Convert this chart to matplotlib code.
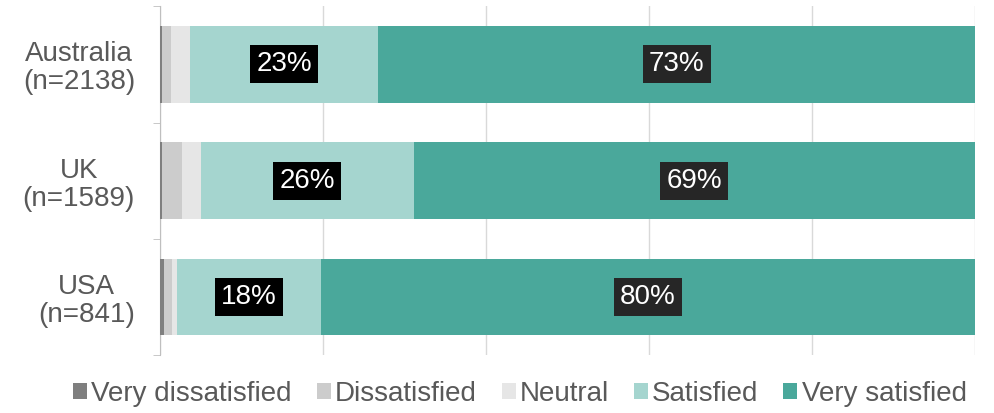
import matplotlib
matplotlib.use("Agg")
import matplotlib.pyplot as plt
import numpy as np

plt.rcParams['font.family'] = ['Liberation Sans', 'DejaVu Sans']

categories = ["Australia\n(n=2138)", "UK\n(n=1589)", "USA\n(n=841)"]
series_names = ["Very dissatisfied", "Dissatisfied", "Neutral", "Satisfied", "Very satisfied"]
very_dissatisfied = [0.3, 0.2, 0.5]
dissatisfied = [1.0, 2.5, 1.0]
neutral = [2.4, 2.3, 0.6]
satisfied = [23.1, 26.1, 17.6]
very_satisfied = [73.2, 68.9, 80.3]
label_satisfied = ["23%", "26%", "18%"]
label_very_satisfied = ["73%", "69%", "80%"]

colors = ["#7f7f7f", "#cccccc", "#e6e6e6", "#a5d5cf", "#4aa89b"]
label_box_colors = {3: "#000000", 4: "#262626"}

fig = plt.figure(figsize=(9.94, 4.13), dpi=100)
ax = fig.add_axes([0.161, 0.140, 0.820, 0.845])

data = [very_dissatisfied, dissatisfied, neutral, satisfied, very_satisfied]
y = np.arange(len(categories))
left = np.zeros(len(categories))
bars = []
for vals, c, name in zip(data, colors, series_names):
    b = ax.barh(y, vals, left=left, height=0.66, color=c, label=name, zorder=3)
    bars.append((b, left.copy(), vals))
    left = left + np.array(vals)

for idx, labels in [(3, label_satisfied), (4, label_very_satisfied)]:
    b, lft, vals = bars[idx]
    for i, (l, v, lab) in enumerate(zip(lft, vals, labels)):
        ax.text(l + v / 2, y[i], lab, ha='center', va='center', color='white',
                fontsize=20, zorder=5,
                bbox=dict(boxstyle='square,pad=0.22', facecolor=label_box_colors[idx],
                          edgecolor='none'))

ax.set_xlim(0, 100)
ax.set_ylim(2.5, -0.5)
ax.set_xticks(np.arange(0, 101, 20))
ax.set_xticklabels([])
ax.tick_params(axis='x', length=0)
ax.xaxis.grid(True, color='#d9d9d9', linewidth=1, zorder=0)
ax.set_yticks(y)
ax.set_yticklabels(categories, fontsize=20, color='#595959', multialignment='center',
                   linespacing=1.1)
ax.tick_params(axis='y', length=0, pad=18)
ax.set_yticks([-0.5, 0.5, 1.5, 2.5], minor=True)
ax.tick_params(axis='y', which='minor', length=5, color='#bfbfbf')
for s in ['top', 'right', 'bottom']:
    ax.spines[s].set_visible(False)
ax.spines['left'].set_color('#bfbfbf')

leg = fig.legend(loc='lower center', bbox_to_anchor=(0.523, -0.045), ncol=5, frameon=False,
                 fontsize=20, handlelength=0.5, handleheight=0.5, handletextpad=0.15,
                 columnspacing=0.9, labelcolor='#595959')

fig.savefig("out.png", dpi=100)
